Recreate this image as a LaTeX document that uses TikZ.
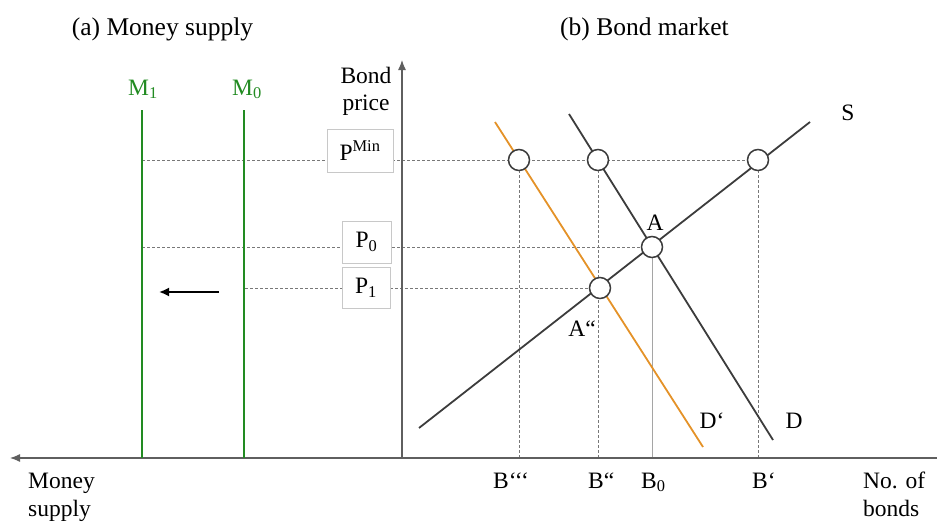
\documentclass[tikz,border=0pt]{standalone}
\usepackage{fontspec}
\setmainfont{Liberation Serif}
\usetikzlibrary{arrows.meta}
\definecolor{mgreen}{RGB}{34,139,34}
\definecolor{dorange}{RGB}{228,146,40}
\definecolor{axisgray}{RGB}{95,95,95}
\definecolor{linegray}{RGB}{60,60,60}
\definecolor{dashgray}{RGB}{120,120,120}
\definecolor{boxgray}{RGB}{200,200,200}
\definecolor{thingray}{RGB}{165,165,165}
\begin{document}
\begin{tikzpicture}[x=1pt,y=-1pt,
  lbl/.style={font=\fontsize{23.5}{28}\selectfont, inner sep=0pt},
  ttl/.style={font=\fontsize{25.5}{30}\selectfont, inner sep=0pt},
  guide/.style={draw=dashgray, line width=0.9pt, dash pattern=on 3pt off 2pt},
  axisline/.style={draw=axisgray, line width=1.2pt},
  curve/.style={draw=linegray, line width=1.8pt},
  mline/.style={draw=mgreen, line width=2pt},
  pt/.style={circle, draw=linegray, line width=1.5pt, fill=white, minimum size=21pt, inner sep=0pt},
  pbox/.style={draw=boxgray, line width=0.8pt, fill=white, inner sep=0pt, font=\fontsize{23.5}{28}\selectfont}
]
\useasboundingbox (0,0) rectangle (937,522);
% coordinates
\coordinate (xend) at (937,458);
\coordinate (xtip) at (10,458);
\coordinate (yfoot) at (402,458);
\coordinate (ytip) at (402,60);
\coordinate (pm1) at (142,160);
\coordinate (p01) at (142,247);
\coordinate (p11) at (245,288);
\coordinate (Cpd) at (519,160);
\coordinate (Cpe) at (598,160);
\coordinate (Cps) at (758,160);
\coordinate (CA) at (652,247);
\coordinate (CAa) at (600,288);
\coordinate (b3) at (519,458);
\coordinate (b2) at (598,458);
\coordinate (b0) at (652,458);
\coordinate (b1) at (758,458);
\coordinate (s0) at (419,428);
\coordinate (s1) at (810,122);
\coordinate (d0) at (569,114);
\coordinate (d1) at (773,440);
\coordinate (e0) at (495,122);
\coordinate (e1) at (703,447);
\coordinate (m1t) at (142,110);
\coordinate (m1b) at (142,458);
\coordinate (m0t) at (244,110);
\coordinate (m0b) at (244,458);
\coordinate (ar0) at (219,292);
\coordinate (ar1) at (159,292);
% guides
\draw[guide] (pm1) -- (Cps);
\draw[guide] (p01) -- (CA);
\draw[guide] (p11) -- (CAa);
\draw[guide] (Cpd) -- (b3);
\draw[guide] (Cpe) -- (b2);
\draw[guide] (Cps) -- (b1);
\draw[draw=thingray, line width=1pt] (CA) -- (b0);
% boxes
\node[pbox, minimum width=66pt, minimum height=43pt] (boxpm) at (360,150.5) {P\textsuperscript{Min}};
\node[pbox, minimum width=49pt, minimum height=42pt] (boxp0) at (366.5,242) {P\textsubscript{0}};
\node[pbox, minimum width=48pt, minimum height=41pt] (boxp1) at (366,287.5) {P\textsubscript{1}};
% axes
\draw[axisline, -{Latex[length=10pt,width=8pt]}] (xend) -- (xtip);
\draw[axisline, -{Latex[length=10pt,width=8pt]}] (yfoot) -- (ytip);
% money supply
\draw[mline] (m1t) -- (m1b);
\draw[mline] (m0t) -- (m0b);
\draw[line width=1.8pt, -{Latex[length=10pt,width=9pt]}] (ar0) -- (ar1);
% curves
\draw[curve] (s0) -- (s1);
\draw[curve] (d0) -- (d1);
\draw[draw=dorange, line width=1.8pt] (e0) -- (e1);
% points
\node[pt] (npd) at (Cpd) {};
\node[pt] (npe) at (Cpe) {};
\node[pt] (nps) at (Cps) {};
\node[pt] (nA) at (CA) {};
\node[pt] (nAa) at (CAa) {};
% labels
\node[ttl, anchor=base] (ta) at (162.5,35) {(a) Money supply};
\node[ttl, anchor=base] (tb) at (644.5,35) {(b) Bond market};
\node[lbl, anchor=base west, text=mgreen] (lm1) at (128,95) {M\textsubscript{1}};
\node[lbl, anchor=base west, text=mgreen] (lm0) at (232,95) {M\textsubscript{0}};
\node[lbl, anchor=base] (lbond) at (366,83) {Bond};
\node[lbl, anchor=base] (lprice) at (366,110) {price};
\node[lbl, anchor=base west] (lmoney) at (28,488) {Money};
\node[lbl, anchor=base west] (lsupply) at (28,516) {supply};
\node[lbl, anchor=base west] (lno) at (863,488) {No. of};
\node[lbl, anchor=base west] (lbonds) at (863,516) {bonds};
\node[lbl, anchor=base west] (lb3) at (493,488) {B‘‘‘};
\node[lbl, anchor=base west] (lb2) at (588,488) {B“};
\node[lbl, anchor=base west] (lb0) at (641,488) {B\textsubscript{0}};
\node[lbl, anchor=base west] (lb1) at (752,488) {B‘};
\node[lbl] (lA) at (655,223) {A};
\node[lbl] (lAa) at (582,329) {A“};
\node[lbl] (lS) at (848,113) {S};
\node[lbl] (lD) at (794,421) {D};
\node[lbl] (lDp) at (712,421) {D‘};
\end{tikzpicture}
\end{document}
